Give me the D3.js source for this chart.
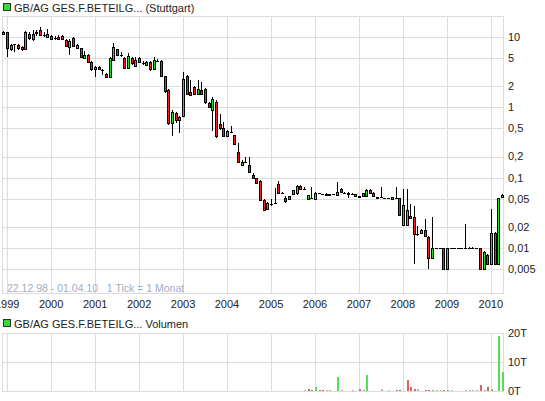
<!DOCTYPE html>
<html><head><meta charset="utf-8">
<script src="https://cdn.jsdelivr.net/npm/d3@7/dist/d3.min.js"></script>
<style>
html,body{margin:0;padding:0;background:#fff;}
svg{display:block;font-family:"Liberation Sans",Arial,sans-serif;}
</style></head>
<body><svg id="c" width="545" height="401"></svg>
<script>
// ---- data (monthly candles, Dec 1998 .. Apr 2010) ----
const firstMonth = new Date(1998, 11, 1);
const open  = [10.8,11.5,6.6,7.8,7.6,7.2,6.6,10.9,9.2,11.2,12.4,10.5,9.8,
  10.2,9.5,9.8,10.2,9.0,7.2,9.5,6.9,6.85,4.95,5.5,4.4,
  3.45,3.7,3.4,3.0,2.65,4.7,6.6,5.6,5.0,3.6,5.0,3.85,
  5.0,4.2,3.95,4.4,3.45,4.5,4.55,2.75,1.75,0.6,0.83,0.66,
  0.75,2.8,1.65,1.95,1.55,1.75,1.8,1.15,0.9,1.2,0.58,0.5,
  0.39,0.45,0.4,0.23,0.15,0.17,0.15,0.109,0.098,0.091,0.048,0.036,
  0.043,0.044,0.082,0.061,0.051,0.050,0.059,0.060,0.077,0.069,0.050,0.051,
  0.050,0.060,0.058,0.059,0.058,0.058,0.057,0.070,0.061,0.061,0.058,0.058,
  0.056,0.055,0.055,0.068,0.061,0.051,0.053,0.051,0.051,0.050,0.051,0.051,
  0.0213,0.0213,0.0289,0.028,0.016,0.0164,0.018,0.0146,0.0072,0.01,0.01,0.01,
  0.005,0.01,0.01,0.01,0.01,0.01,0.01,0.01,0.01,0.01,0.005,0.008,
  0.006,0.0166,0.006,0.054];
const high  = [11.9,11.8,8.0,7.9,7.8,7.4,12.2,11.6,12.3,12.6,13.6,11.5,12.7,
  10.6,10.2,10.6,10.6,9.3,9.2,9.8,7.8,7.0,6.3,5.7,4.5,
  3.9,3.9,3.5,3.1,5.2,8.06,6.8,6.0,5.2,5.8,5.2,5.1,
  5.1,4.5,4.6,4.6,5.1,4.9,4.7,2.8,1.8,0.9,0.86,0.76,
  3.2,2.9,2.4,2.0,2.4,2.3,1.85,1.2,1.4,1.25,0.8,0.62,
  0.47,0.55,0.41,0.31,0.18,0.2,0.2,0.115,0.1,0.093,0.05,0.046,
  0.05,0.072,0.09,0.063,0.055,0.056,0.068,0.08,0.079,0.074,0.057,0.073,
  0.062,0.061,0.059,0.06,0.059,0.059,0.088,0.072,0.062,0.062,0.060,0.058,
  0.056,0.061,0.07,0.07,0.062,0.054,0.075,0.052,0.052,0.054,0.075,0.052,
  0.07,0.069,0.043,0.04,0.021,0.0185,0.026,0.015,0.0276,0.01,0.01,0.01,
  0.01,0.01,0.01,0.01,0.01,0.022,0.0105,0.0105,0.01,0.01,0.0092,0.0082,
  0.036,0.017,0.052,0.058];
const low   = [10.6,5.1,6.3,6.1,6.5,6.3,6.4,8.9,8.8,10.4,10.2,9.9,9.6,
  9.1,9.1,8.9,9.0,7.2,5.6,7.2,6.7,5.0,4.8,4.2,3.3,
  2.7,3.35,2.85,2.6,2.6,4.5,5.3,5.2,3.5,3.5,4.0,3.8,
  4.3,4.0,3.9,3.3,3.4,4.4,2.7,1.6,0.56,0.39,0.6,0.43,
  0.72,1.5,1.45,1.5,1.5,1.5,1.1,0.97,0.46,0.37,0.48,0.38,
  0.38,0.43,0.29,0.16,0.145,0.16,0.115,0.097,0.084,0.047,0.034,0.035,
  0.04,0.043,0.059,0.058,0.044,0.049,0.058,0.057,0.069,0.066,0.050,0.050,
  0.049,0.059,0.057,0.057,0.057,0.057,0.056,0.062,0.06,0.051,0.058,0.055,
  0.055,0.055,0.054,0.06,0.054,0.05,0.052,0.05,0.05,0.05,0.05,0.029,
  0.021,0.021,0.0265,0.006,0.015,0.016,0.0145,0.005,0.007,0.01,0.01,0.005,
  0.005,0.01,0.01,0.01,0.01,0.01,0.01,0.01,0.01,0.005,0.005,0.006,
  0.006,0.006,0.006,0.053];
const close = [11.5,6.85,7.6,7.8,6.85,6.6,11.8,9.5,10.9,11.5,10.5,10.5,10.9,
  9.3,9.5,9.2,9.2,7.4,8.8,7.4,7.6,5.2,5.5,4.4,3.45,
  3.75,3.45,3.4,2.65,5.0,7.2,5.5,5.6,3.6,5.3,4.2,4.75,
  4.4,4.2,4.4,3.45,4.7,4.5,2.75,1.72,0.6,0.86,0.66,0.73,
  2.5,1.55,1.5,1.55,1.8,1.55,1.17,1.0,1.3,0.39,0.5,0.39,
  0.46,0.45,0.3,0.17,0.17,0.17,0.12,0.098,0.085,0.048,0.035,0.044,
  0.043,0.044,0.06,0.061,0.047,0.055,0.067,0.077,0.069,0.069,0.057,0.051,
  0.061,0.06,0.058,0.058,0.059,0.058,0.062,0.062,0.061,0.058,0.058,0.056,
  0.055,0.06,0.068,0.061,0.055,0.053,0.053,0.051,0.051,0.053,0.051,0.0296,
  0.0416,0.035,0.0269,0.016,0.016,0.018,0.0147,0.0072,0.01,0.01,0.01,0.005,
  0.01,0.01,0.01,0.01,0.01,0.01,0.01,0.01,0.01,0.005,0.0089,0.006,
  0.0166,0.006,0.051,0.057];
// volume in thousands (T)
const volume = [0,0,0,0,0,0,0,0,0,0,0,0,0, 0,0,0,0,0,0,0,0,0,0,0,0,
  0,0,0,0,0,0,0,0,0,0,0,0, 0,0,0,0,0,0,0,0,0,0,0,0,
  0,0,0,0,0,0,0,0,0,0,0,0, 0,0,0,0,0,0,0,0,0,0,0,0,
  0,0,0,0,0,0,0,0,0,0.3,0.6,0.45, 1.4,0.45,0.15,0.05,0.1,0,4.7,0.3,0,0,0.3,0,
  0.6,0.3,5.5,0,0,0,0.6,0,0.3,0,0.1,0.1, 0,3.8,1.4,0.6,0.6,0,0.3,0.1,0.3,0.05,0.05,0.3,
  0.1,0.1,0,0,0,0.3,0.05,0.05,0.3,2.1,0.1,1.4, 0.6,0,18.9,6.6];
const priceTicks = [10,5,2,1,0.5,0.2,0.1,0.05,0.02,0.01,0.005];
const volTicks = [0,10,20];
const yearTicks = d3.range(1999, 2011);
const title = "GB/AG GES.F.BETEILG... (Stuttgart)";
const volTitle = "GB/AG GES.F.BETEILG... Volumen";
const info = "22.12.98 - 01.04.10   1 Tick = 1 Monat";

// ---- layout ----
const svg = d3.select("#c");
const L = 2.5, R = 503, T = 16, B = 293, VT = 332.7, VB = 391;
const dates = close.map((_, i) => d3.timeMonth.offset(firstMonth, i));
const x = d3.scaleTime().domain([new Date(1998,10,23), new Date(2010,3,12)]).range([L, R]);
const y = d3.scaleLog().domain([0.00232, 19.7]).range([B, T]);
const yv = d3.scaleLinear().domain([0, 20]).range([VB, VT]);
const grid = "#dcdcdc";
const px = v => Math.round(v) + 0.5;

function panel(top, bottom, hTicks, sc) {
  const g = svg.append("g").attr("shape-rendering", "crispEdges");
  g.selectAll(".v").data(yearTicks).join("line")
    .attr("x1", d => px(x(new Date(d,0,1)))).attr("x2", d => px(x(new Date(d,0,1))))
    .attr("y1", top).attr("y2", bottom).attr("stroke", grid);
  g.selectAll(".h").data(hTicks).join("line")
    .attr("x1", L).attr("x2", R).attr("y1", d => px(sc(d))).attr("y2", d => px(sc(d))).attr("stroke", grid);
  g.append("rect").attr("x", L).attr("y", px(top)).attr("width", R - L).attr("height", px(bottom) - px(top))
    .attr("fill", "none").attr("stroke", grid);
}
panel(T, B, priceTicks, y);
panel(VT, VB, volTicks, yv);

// legends
function legend(yy, txt) {
  svg.append("rect").attr("x", 3.5).attr("y", yy - 7.5).attr("width", 7).attr("height", 7)
    .attr("fill", "#3d3").attr("stroke", "#333").attr("shape-rendering", "crispEdges");
  svg.append("text").attr("x", 14).attr("y", yy + 0.5).attr("font-size", 11).attr("fill", "#222").text(txt);
}
legend(11, title);
legend(327, volTitle);

// price axis labels
svg.append("g").selectAll("text").data(priceTicks).join("text")
  .attr("x", 508).attr("y", d => y(d)).attr("dy", "0.35em").attr("font-size", 11).attr("fill", "#222")
  .text(d => String(d).replace(".", ","));
svg.append("g").selectAll("text").data(volTicks).join("text")
  .attr("x", 508).attr("y", d => yv(d)).attr("dy", "0.35em").attr("font-size", 11).attr("fill", "#222")
  .text(d => d + "T");
// year labels
svg.append("g").selectAll("text").data(yearTicks).join("text")
  .attr("x", d => x(new Date(d,0,1))).attr("y", 308).attr("text-anchor", "middle")
  .attr("font-size", 11).attr("fill", "#222").text(d => d);
// info text
svg.append("text").attr("x", 7).attr("y", 292).attr("font-size", 10.5).attr("fill", "#a3adc0")
  .style("white-space", "pre").text(info);

// candles
const cg = svg.append("g").attr("shape-rendering", "crispEdges");
const bw = 2;
dates.forEach((d, i) => {
  const cx = Math.round(x(d));
  cg.append("line").attr("x1", cx + 0.5).attr("x2", cx + 0.5)
    .attr("y1", y(high[i])).attr("y2", y(low[i])).attr("stroke", "#000");
  const o = open[i], c = close[i];
  if (o === c) {
    cg.append("line").attr("x1", cx - 1).attr("x2", cx + 2)
      .attr("y1", px(y(o))).attr("y2", px(y(o))).attr("stroke", "#000");
  } else {
    const top = Math.round(y(Math.max(o, c))), bot = Math.round(y(Math.min(o, c)));
    cg.append("rect").attr("x", cx - 0.5).attr("y", top + 0.5).attr("width", bw)
      .attr("height", Math.max(1, bot - top)).attr("fill", c > o ? "#2d2" : "#e22")
      .attr("stroke", "#000").attr("stroke-width", 1);
  }
});

// volume bars
const vg = svg.append("g").attr("shape-rendering", "crispEdges");
dates.forEach((d, i) => {
  if (!volume[i]) return;
  const prev = i > 0 ? close[i - 1] : close[i];
  const col = close[i] > prev ? "#5d5" : close[i] < prev ? "#e06262" : "#bbb";
  const cx = Math.round(x(d));
  const top = Math.min(yv(volume[i]), VB - 1);
  vg.append("rect").attr("x", cx - 0.5).attr("y", top).attr("width", 2)
    .attr("height", VB - top).attr("fill", col);
});
</script></body></html>
